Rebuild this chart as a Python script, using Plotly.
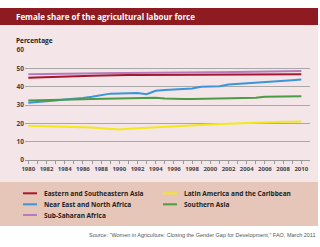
import plotly.graph_objects as go

years = list(range(1980, 2011))

eastern_se_asia = [44.8, 44.9, 45.0, 45.1, 45.3, 45.5, 45.7, 45.9, 46.1, 46.3, 46.4,
                   46.4, 46.4, 46.4, 46.5, 46.5, 46.5, 46.5, 46.6, 46.6, 46.6,
                   46.6, 46.6, 46.7, 46.7, 46.7, 46.7, 46.8, 46.8, 46.8, 46.8]
latin_america = [18.7, 18.6, 18.5, 18.4, 18.3, 18.2, 18.0, 17.7, 17.3, 16.8, 16.6,
                 17.0, 17.3, 17.5, 17.6, 17.8, 18.1, 18.4, 18.8, 19.2, 19.5,
                 19.7, 19.8, 19.9, 20.1, 20.3, 20.5, 20.7, 20.8, 20.9, 21.0]
near_east_n_africa = [31.2, 31.5, 32.0, 32.5, 33.0, 33.3, 33.8, 34.5, 35.2, 36.2, 36.3,
                      36.3, 36.5, 35.9, 37.8, 38.2, 38.4, 38.5, 39.0, 40.0, 40.0,
                      40.2, 41.2, 41.5, 41.6, 42.0, 42.6, 42.9, 43.2, 43.5, 43.9]
southern_asia = [32.4, 32.6, 32.8, 32.9, 33.0, 33.1, 33.2, 33.3, 33.4, 33.5, 33.6,
                 33.7, 33.8, 33.9, 34.0, 33.6, 33.3, 33.3, 33.3, 33.4, 33.4,
                 33.4, 33.5, 33.6, 33.7, 34.0, 34.5, 34.5, 34.6, 34.7, 34.8]
sub_saharan = [46.8, 46.9, 46.9, 47.0, 47.0, 47.1, 47.2, 47.2, 47.3, 47.3, 47.4,
               47.4, 47.5, 47.5, 47.6, 47.6, 47.7, 47.7, 47.8, 47.8, 47.9,
               47.9, 48.0, 48.0, 48.1, 48.2, 48.2, 48.3, 48.4, 48.5, 48.6]

series_names = ["Eastern and Southeastern Asia", "Latin America and the Caribbean",
                "Near East and North Africa", "Southern Asia", "Sub-Saharan Africa"]
series_values = [eastern_se_asia, latin_america, near_east_n_africa, southern_asia, sub_saharan]
series_colors = ["#A5182B", "#F3E81A", "#3B95D8", "#4C9C44", "#B57ABF"]

x_tick_years = list(range(1980, 2011, 2))
y_ticks = [0, 10, 20, 30, 40, 50, 60]

W, H = 320, 247
ML, MR, MT, MB = 25, 10, 50, 87
PW, PH = W - ML - MR, H - MT - MB

def px_x(p):
    return (p - ML) / PW

def px_y(p):
    return (H - MB - p) / PH

fig = go.Figure()
draw_order = [0, 4, 2, 3, 1]
for i in draw_order:
    fig.add_trace(go.Scatter(x=years, y=series_values[i], mode="lines",
                             name=series_names[i],
                             line=dict(color=series_colors[i], width=2),
                             showlegend=False))

shapes = []
shapes.append(dict(type="rect", xref="paper", yref="paper", layer="below",
                   x0=px_x(0), x1=px_x(318), y0=px_y(25), y1=px_y(8),
                   fillcolor="#8E1A22", line=dict(width=0)))
shapes.append(dict(type="rect", xref="paper", yref="paper", layer="below",
                   x0=px_x(0), x1=px_x(318), y0=px_y(182), y1=px_y(25),
                   fillcolor="#F3E5E8", line=dict(width=0)))
shapes.append(dict(type="rect", xref="paper", yref="paper", layer="below",
                   x0=px_x(0), x1=px_x(318), y0=px_y(226), y1=px_y(182),
                   fillcolor="#E6C6B8", line=dict(width=0)))

annotations = []
annotations.append(dict(text="<b>Female share of the agricultural labour force</b>",
                        xref="paper", yref="paper", x=px_x(14), y=px_y(16.5),
                        xanchor="left", yanchor="middle", showarrow=False,
                        font=dict(family="Open Sans", size=8, color="white")))
annotations.append(dict(text="<b>Percentage</b>",
                        xref="paper", yref="paper", x=px_x(14), y=px_y(40),
                        xanchor="left", yanchor="middle", showarrow=False,
                        font=dict(family="Open Sans", size=6.5, color="#222")))
annotations.append(dict(text="Source: \"Women in Agriculture: Closing the Gender Gap for Development,\" FAO, March 2011",
                        xref="paper", yref="paper", x=px_x(318), y=px_y(235),
                        xanchor="right", yanchor="middle", showarrow=False,
                        font=dict(family="Liberation Sans", size=5.5, color="#555")))

legend_pos = [(23, 193.3), (163, 193.3), (23, 204.3), (163, 204.3), (23, 215)]
for i, (lx, ly) in enumerate(legend_pos):
    shapes.append(dict(type="line", xref="paper", yref="paper",
                       x0=px_x(lx), x1=px_x(lx + 14), y0=px_y(ly), y1=px_y(ly),
                       line=dict(color=series_colors[i], width=2)))
    annotations.append(dict(text="<b>" + series_names[i] + "</b>",
                            xref="paper", yref="paper", x=px_x(lx + 19), y=px_y(ly),
                            xanchor="left", yanchor="middle", showarrow=False,
                            font=dict(family="Open Sans", size=6.5, color="#222")))

ppy = 9.1
x0_year = 1980 - (28.3 - ML) / ppy
x1_year = 1980 + (ML + PW - 28.3) / ppy

fig.update_layout(
    width=W, height=H,
    margin=dict(l=ML, r=MR, t=MT, b=MB),
    paper_bgcolor="white",
    plot_bgcolor="rgba(0,0,0,0)",
    shapes=shapes,
    annotations=annotations,
    xaxis=dict(range=[x0_year, x1_year], tickvals=x_tick_years,
               ticktext=["<b>" + str(y) + "</b>" for y in x_tick_years],
               showgrid=False, zeroline=False, showline=True,
               linecolor="#999", linewidth=1,
               ticks="outside", ticklen=3, tickcolor="#999", tickwidth=1,
               minor=dict(dtick=1, ticks="outside", ticklen=3, tickcolor="#999", tickwidth=1),
               tickfont=dict(family="Open Sans", size=6, color="#444"),
               fixedrange=True),
    yaxis=dict(range=[0, 60], tickvals=y_ticks,
               ticktext=["<b>" + str(v) + "</b>" for v in y_ticks],
               showgrid=True, gridcolor="#A8A8A8", gridwidth=1,
               zeroline=False, showline=False, ticks="",
               tickfont=dict(family="Open Sans", size=6.5, color="#444"),
               fixedrange=True),
)

fig.write_html("out.html")
